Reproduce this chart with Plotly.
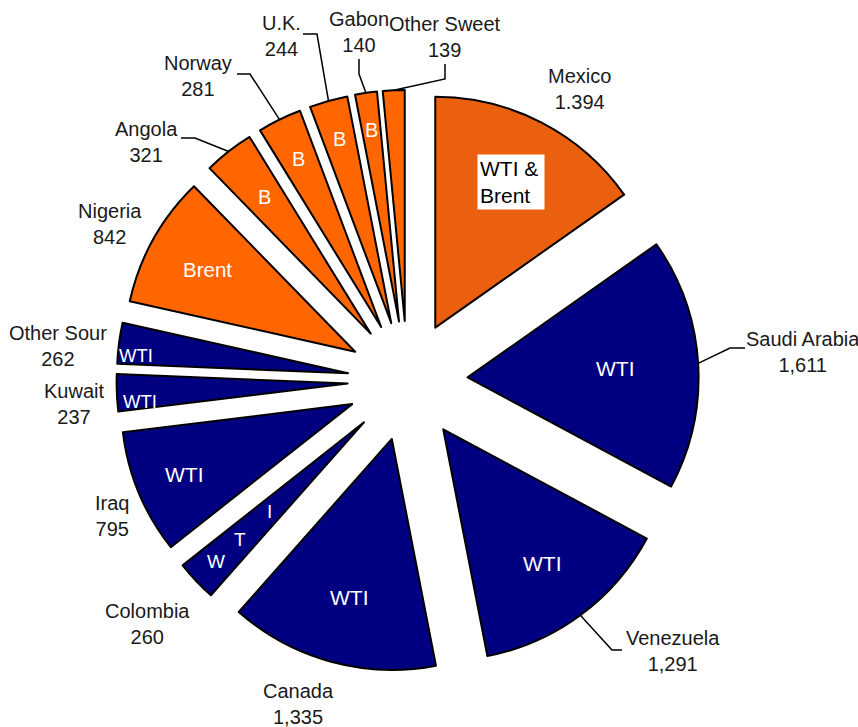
import math
import plotly.graph_objects as go

# ---- data ----
countries = ["Mexico", "Saudi Arabia", "Venezuela", "Canada", "Colombia", "Iraq",
             "Kuwait", "Other Sour", "Nigeria", "Angola", "Norway", "U.K.",
             "Gabon", "Other Sweet"]
volumes = [1394, 1611, 1291, 1335, 260, 795, 237, 262, 842, 321, 281, 244, 140, 139]
value_labels = ["1.394", "1,611", "1,291", "1,335", "260", "795", "237", "262",
                "842", "321", "281", "244", "140", "139"]
benchmark = ["WTI & Brent", "WTI", "WTI", "WTI", "WTI", "WTI", "WTI", "WTI",
             "Brent", "B", "B", "B", "B", ""]

# ---- style / layout ----
W, H = 858, 727
CX, CY = 407.6, 381.0      # pie centre (px)
R = 231.0                  # pie radius (px)
PULL = 0.26
NAVY = "#000080"
ORANGE = "#FF6600"
MEX = "#EB600E"
colors = [MEX] + [NAVY] * 7 + [ORANGE] * 6
FONT = "Liberation Sans, Arial, sans-serif"
TXT = "#1a1a1a"

ext = R * (1 + PULL)
dom_x = [(CX - ext) / W, (CX + ext) / W]
dom_y = [(H - CY - ext) / H, (H - CY + ext) / H]


def px(x, y):
    return x / W, 1 - y / H


total = sum(volumes)
bis = []
cum = 0
for v in volumes:
    a0 = cum / total * 360
    cum += v
    a1 = cum / total * 360
    bis.append((a0 + a1) / 2)


def slice_pt(i, frac, perp=0.0):
    th = math.radians(bis[i])
    dx, dy = math.sin(th), -math.cos(th)
    pcx = CX + PULL * R * dx
    pcy = CY + PULL * R * dy
    return pcx + frac * R * dx - perp * dy, pcy + frac * R * dy + perp * dx


fig = go.Figure(go.Pie(
    labels=countries, values=volumes, sort=False, direction="clockwise",
    rotation=0, pull=[PULL] * len(volumes), textinfo="none",
    marker=dict(colors=colors, line=dict(color="black", width=2)),
    domain=dict(x=dom_x, y=dom_y), showlegend=False, hoverinfo="label+value",
))

annotations = []
shapes = []


def ann(x, y, text, size, color, **kw):
    xp, yp = px(x, y)
    d = dict(x=xp, y=yp, xref="paper", yref="paper", text=text, showarrow=False,
             xanchor="center", yanchor="middle",
             font=dict(family=FONT, size=size, color=color))
    d.update(kw)
    annotations.append(d)


# outside labels
label_pos = [(579, 89), (803, 352), (673, 651), (298, 704), (147, 624), (112, 516),
             (74, 404), (58, 346), (110, 224), (146, 142), (198, 76), (281, 36),
             (359, 32), (445, 37)]
for i, (c, vl) in enumerate(zip(countries, value_labels)):
    ann(*label_pos[i], f"{c}<br>{vl}", 20, TXT)

# leader lines: (slice index, elbow, end)
leaders = [(1, (730, 348), (745, 348)),
           (2, (612, 650), (622, 650)),
           (9, (195, 138), (181, 138)),
           (10, (250, 74), (237, 74)),
           (11, (317, 34), (303, 34)),
           (12, (359, 74), (359, 59)),
           (13, (445, 79), (445, 64))]
for i, el, en in leaders:
    sx, sy = slice_pt(i, 1.0)
    pts = [px(sx, sy), px(*el), px(*en)]
    path = "M " + " L ".join(f"{a},{b}" for a, b in pts)
    shapes.append(dict(type="path", xref="paper", yref="paper", path=path,
                       line=dict(color="black", width=1.5)))

# inside labels
inside_frac = [0.71, 0.64, 0.72, 0.71, None, 0.79, 0.90, 0.92, 0.73, 0.75, 0.81, 0.83, 0.84, None]
inside_perp = [0, 0, 0, 0, 0, 0, -10, -10, 0, 0, 0, 0, 0, 0]
inside_size = [21, 21, 21, 21, 19, 21, 18.5, 18.5, 20.5, 20, 20, 20, 20, 19]
for i, f in enumerate(inside_frac):
    if f is None or not benchmark[i]:
        continue
    x, y = slice_pt(i, f, inside_perp[i])
    if i == 0:
        ann(x, y, "WTI &<br>Brent  ", 21, "black", align="left",
            bgcolor="white", borderpad=2)
    else:
        ann(x, y, benchmark[i], inside_size[i], "white")

# Colombia: letters spread along the slice
for ch, f in zip(benchmark[4].replace(" ", ""), [0.88, 0.74, 0.56]):
    x, y = slice_pt(4, f)
    ann(x, y, ch, 19, "white")

fig.update_layout(width=W, height=H, margin=dict(l=0, r=0, t=0, b=0),
                  paper_bgcolor="white", plot_bgcolor="white",
                  annotations=annotations, shapes=shapes)
fig.write_html("out.html", config={"displayModeBar": False},
               post_script="document.body.style.margin='0';document.body.style.overflow='hidden';")
